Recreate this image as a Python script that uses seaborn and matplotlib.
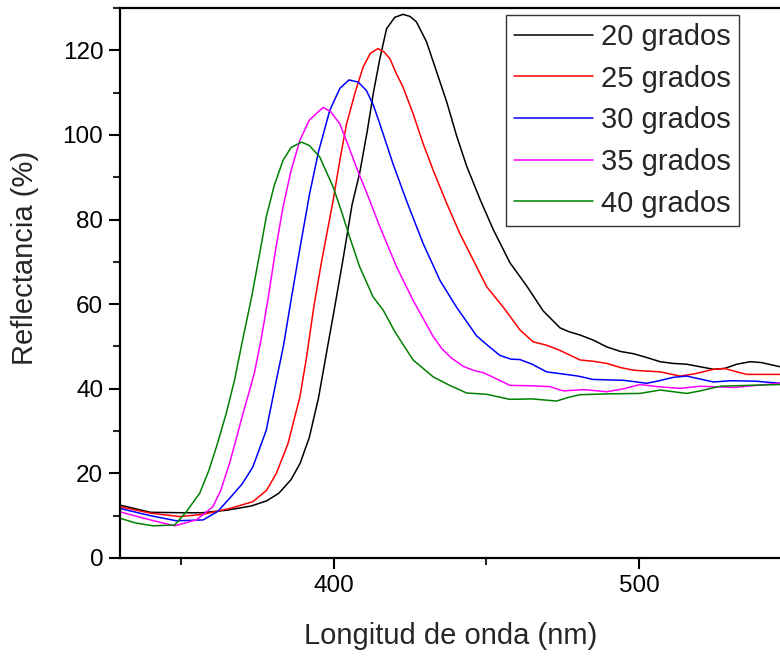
import matplotlib
matplotlib.use("Agg")
import matplotlib.pyplot as plt
from matplotlib.ticker import MultipleLocator
import seaborn as sns
import pandas as pd

# ---- data ----
labels = ["20 grados", "25 grados", "30 grados", "35 grados", "40 grados"]
colors = ["#000000", "#FF0000", "#0000FF", "#FF00FF", "#008000"]

wl_20 = [330, 340, 350, 357, 365, 373, 378, 382, 386, 389, 392, 395, 398, 400, 403, 406, 408.5, 411, 413, 415.1,
         417.3, 420, 422.7, 425, 427.1, 430.4, 433.7, 437, 440.2, 443.5, 447.9, 452.2, 457.7, 463.2, 468.6, 474.1,
         477, 480.7, 485, 489.4, 494, 498.1, 502, 506.9, 511, 515.6, 520, 524.4, 528, 532, 536.4, 540, 546.2, 555]
r_20 = [12.5, 10.8, 10.7, 10.7, 11.3, 12.3, 13.5, 15.3, 18.5, 22.4, 28.5, 37.8, 50, 58, 70.4, 83.5, 91, 101, 110, 118,
        125.1, 127.8, 128.5, 128, 126.7, 122, 114.9, 107.8, 99.9, 92.7, 84.8, 77.7, 69.8, 64.3, 58.4, 54.4,
        53.5, 52.7, 51.5, 49.9, 48.8, 48.3, 47.5, 46.4, 46, 45.8, 45.2, 44.6, 44.8, 45.8, 46.4, 46.2, 45.2, 44.5]

wl_25 = [330, 340, 349.5, 357, 365.9, 373.5, 378, 381.2, 385, 388.9, 391, 393.5, 396, 399.8, 402, 404.2, 407, 409.6,
         412, 414.5, 416.5, 418.4, 420.5, 422.7, 426, 429.3, 432.6, 437, 441.3, 445.7, 450.1, 455.5, 461, 465.3,
         469.7, 474, 480.7, 485, 489.4, 494, 498.1, 502, 506.9, 513.4, 518, 524.4, 528, 532, 535.3, 546.2, 555]
r_25 = [12.1, 10.6, 9.8, 10.3, 11.7, 13.3, 16, 20, 27, 38, 47, 59.5, 70, 84.5, 94, 102.6, 110, 116,
        119.3, 120.4, 119.6, 118, 114.5, 111.3, 105, 97.9, 91.6, 83.8, 76.7, 70.4, 64.1, 59.3, 53.9, 51.1,
        50.3, 49.1, 46.8, 46.5, 46, 45, 44.4, 44.2, 44, 43, 43.5, 44.6, 44.8, 44.0, 43.4, 43.4, 43.4]

wl_30 = [330, 340, 348.4, 357.2, 362, 365.9, 370, 373.5, 377.9, 381.2, 383.5, 386.1, 389, 392.1, 395, 398.7, 402, 405,
         408, 410.7, 413, 415.1, 419.4, 423.8, 429.3, 434.8, 440.2, 446.8, 450.5, 454.4, 458, 461, 465, 469.7,
         475, 480, 485, 494.9, 502.5, 506, 511.2, 515.6, 520, 524.4, 529.8, 538, 546.2, 555]
r_30 = [11.7, 10, 8.8, 9, 11, 14.1, 17.5, 21.5, 30.2, 42, 50, 61.3, 73.5, 86.1, 96, 105.8, 111, 113,
        112.5, 110.5, 107, 102.6, 93.2, 84.5, 74.3, 65.6, 59.3, 52.5, 50.2, 47.9, 47, 46.9, 45.8, 44,
        43.5, 43, 42.2, 42, 41.3, 41.8, 42.7, 43, 42.3, 41.6, 41.9, 41.8, 41.3, 41.3]

wl_35 = [330, 340, 347.9, 355, 360.4, 363, 365.9, 368, 370.3, 372.2, 374.1, 376.3, 378.5, 381, 383.4, 386, 388.9, 392,
         396.5, 399, 402, 404.5, 407.4, 411.8, 415.1, 420.6, 426, 432.6, 435.5, 438.5, 442.4, 446, 449, 452, 457.7,
         465, 470.8, 475.2, 482, 489.4, 495, 500.3, 506, 513.4, 520, 530.9, 538.6, 546, 555]
r_35 = [10.9, 9, 7.6, 9, 12.1, 16, 22.4, 28, 34.2, 39, 44, 52, 61.3, 73, 83, 91.5, 98.7, 103.5,
        106.5, 105.5, 102.6, 98, 92.4, 84.5, 78.3, 68.8, 60.9, 52.3, 49.4, 47.3, 45.3, 44.3, 43.8, 42.8, 40.8,
        40.7, 40.5, 39.5, 39.8, 39.3, 40, 41, 40.5, 40.1, 40.6, 40.3, 40.8, 41.3, 41.3]

wl_40 = [330, 335, 340.8, 347.9, 351.7, 356.1, 359, 361.6, 364.8, 367.5, 370, 373, 375.5, 377.9, 380.5, 383.4, 386,
         389.4, 392, 395.4, 399.8, 402.5, 405.2, 408.5, 412.9, 416.2, 420, 426, 432.6, 438, 443.5, 450, 457.7, 465,
         473, 477, 480.7, 490, 500.3, 506.9, 515.6, 520, 526.6, 535.3, 546.2, 555]
r_40 = [9.4, 8.3, 7.6, 7.8, 10.9, 15.3, 20.5, 26.3, 34.2, 42, 51, 61.3, 71, 80.6, 88, 94, 97,
        98.3, 97.5, 94.8, 87.7, 82, 75.9, 68.8, 61.7, 58.6, 53.5, 46.8, 42.8, 40.8, 39, 38.7, 37.5, 37.6,
        37.1, 38, 38.6, 38.8, 38.9, 39.7, 38.9, 39.5, 40.6, 40.8, 41, 41]

x_ticks_major = [400, 500]
y_ticks_major = [0, 20, 40, 60, 80, 100, 120]

frames = []
for lab, wl, r in zip(labels, [wl_20, wl_25, wl_30, wl_35, wl_40], [r_20, r_25, r_30, r_35, r_40]):
    frames.append(pd.DataFrame({"wl": wl, "R": r, "serie": lab}))
df = pd.concat(frames, ignore_index=True)

# ---- style ----
sns.set_style("ticks")
plt.rcParams["font.family"] = ["Liberation Sans", "DejaVu Sans"]

fig = plt.figure(figsize=(7.80, 6.56), dpi=100)
ax = fig.add_axes([120 / 780, 98 / 656, 687 / 780, 550 / 656])

sns.lineplot(data=df, x="wl", y="R", hue="serie", hue_order=labels,
             palette=dict(zip(labels, colors)), estimator=None, sort=False,
             linewidth=1.1, ax=ax)

ax.set_xlim(330, 555)
ax.set_ylim(0, 130)
ax.set_xticks(x_ticks_major)
ax.set_yticks(y_ticks_major)
ax.xaxis.set_minor_locator(MultipleLocator(50))
ax.yaxis.set_minor_locator(MultipleLocator(10))
ax.tick_params(which="major", direction="out", length=8, width=1.5, labelsize=17.5, pad=4, colors="black")
ax.tick_params(which="minor", direction="out", length=5, width=1.5)
for s in ax.spines.values():
    s.set_linewidth(1.6)
    s.set_color("black")
    s.set_visible(True)

ax.set_xlabel("Longitud de onda (nm)", fontsize=21)
ax.set_ylabel("Reflectancia (%)", fontsize=21)
ax.xaxis.set_label_coords(0.481, -0.117)
ax.yaxis.set_label_coords(-0.118, 0.546)

leg = ax.legend(loc="upper right", bbox_to_anchor=(739 / 780, 1 - 15 / 656),
                bbox_transform=fig.transFigure, borderaxespad=0, fontsize=21,
                frameon=True, fancybox=False, framealpha=1, edgecolor="#333333",
                handlelength=2.7, handletextpad=0.3, labelspacing=0.47, borderpad=0.27)
leg.get_frame().set_linewidth(1.0)
for h in leg.get_lines():
    h.set_linewidth(1.1)

fig.savefig("out.png", dpi=100)
